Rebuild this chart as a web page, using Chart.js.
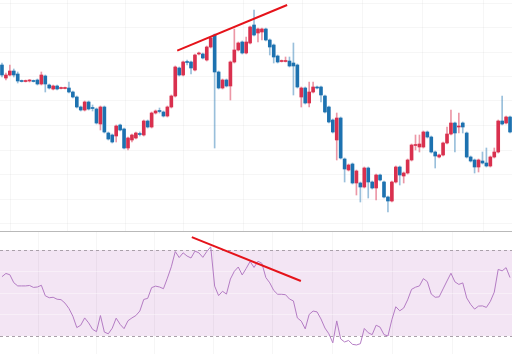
<!DOCTYPE html>
<html>
<head>
<meta charset="utf-8">
<script src="https://cdn.jsdelivr.net/npm/chart.js@4.4.1/dist/chart.umd.min.js"></script>
<style>
  html, body { margin: 0; padding: 0; background: #fff; }
  #wrap { position: relative; width: 512px; height: 354px; overflow: hidden; background: #fff; }
  #price { position: absolute; left: 0; top: 0; }
  #sep { position: absolute; left: 0; top: 231px; width: 512px; height: 1px; background: #b9b9b9; }
  #rsi { position: absolute; left: 0; top: 232px; }
</style>
</head>
<body>
<div id="wrap">
  <canvas id="price" width="512" height="231"></canvas>
  <div id="sep"></div>
  <canvas id="rsi" width="512" height="122"></canvas>
</div>
<script>
// candles (arbitrary price units)
const opens = [
  175,162,165,169,166,159.5,158.5,159,159.5,160,
  156,164,155,151,154,151.5,151.5,152,148,143,
  133,130,138,132.5,131,116,133,107,105,104,
  115,111,92,100,102,106.5,105,119,113,127,
  129.5,128,124,133,144,172,165,178.5,178,170,
  186,186,180,193,205,168,152,160,154,178,
  190,198,187,197,215,207,208,211,200,195,
  184,178.5,178.5,179,177,175,143,152,137,148,
  153,153,144,133,120,100,122,81,70,76,
  57,57,53,72,58,52,65,58,43,39,
  58,73,64,67,80,94.5,93,93,108,103,
  88,83,85,97,106,117,113,117,107,83,
  80,73,79,77,74,83,88,119,117,123
];
const closes = [
  165,165,169,165,159,158.5,159.5,160,158.5,156,
  165,156,152,154,151,152.5,152.5,148,143,133,
  130,138,131,131.5,117,133,108,101,98,114,
  110,92,102,105,107,105.5,119,113,127,129,
  128.5,124,133,144,173,165,178,177.5,172,185,
  187,182,193,202,168,152,160,154,178,190,
  197,187,198,213,205,211,211,200,193,183,
  178,179.5,179.5,174,174,153,152,137,148,153,
  152,145,128,118,108,122,82,71,75,57,
  69,53,72,58,52,65,60,43,39,58,
  73,65,67,80,95,95.5,96,108,103,88,
  84,85,97,106,117,107,114,113,83,79,
  73,80,77,74,83,88,119,116,123,108
];
const highs = [
  177,167,175,171,168,160,160,160.5,160,161,
  168,165,156,155,155,153,153,158,149,144,
  134,139,139,135,132,134,134,108,106,115,
  116,112,103,106,108,108,120,120,128,130,
  132,129,134,145,174,173,179,180,179,186,
  188,187,194,203,206,169,161,161,179,211,
  198,199,203,214,230,212,212,212,201,196,
  185,180,183,183,197,176,153,153,158,158,
  154,154,145,134,121,127,123,82,76,77,
  70,58,73,73,59,66,66,59,44,59,
  74,74,68,81,96,105,105,109,109,104,
  89,86,98,113,130,118,127,118,108,84,
  81,81,88,92,84,92,120,144,124,124
];
const lows = [
  163,160,164,163,157,158,158,158,158,155,
  155,148,151,150,150,151,151,147,142,132,
  129,129,130,129,116,110,107,100,97,98,
  109,91,90,98,101,104,104,112,112,126,
  127,123,123,132,143,164,164,175,166,169,
  185,181,179,192,92,151,151,153,140,177,
  189,186,186,196,204,198,200,199,185,177,
  177,178,178,173,145,152,133,136,133,147,
  151,138,127,117,107,80,81,58,69,56,
  45,38,52,42,51,40,59,42,28,38,
  57,55,57,66,79,90,88,92,102,87,
  72,82,84,96,105,88,107,107,82,78,
  67,68,76,73,73,82,87,115,116,107
];
// RSI, one value per candle
const rsi = [
  57.6,59.1,58.5,54.8,53.3,53.3,53.3,53.5,52.6,52.8,
  53.6,48.7,47.8,48,47.1,46.9,45.3,42.8,39.2,33.9,
  35,38.4,36.1,33.1,32,39.5,31.8,31,33.6,38.3,
  35.4,33.4,37.1,38.4,39.5,41.6,47,47.5,52.5,53.2,
  52.8,52,56.9,62.2,69.3,66.5,68.7,67.2,66.3,69.5,
  68.7,66.6,69.3,71.5,53.2,48.8,50.8,49.5,56.5,60.1,
  62.1,58.4,61.4,64.7,61.9,64.8,63.8,57.2,54.7,51.2,
  49.4,49.4,49.2,47.2,46.3,38.4,36.9,33.3,40,41.6,
  41.2,37.9,33.7,31,26.8,37,28.6,27.2,27.9,26.1,
  25.8,26.4,33.5,31.5,30.6,35,34.1,30.6,30,37.6,
  43.6,41.7,43,46.8,51.7,52.7,53.3,56.7,55.3,49.5,
  48,48.2,51.9,55.6,59.2,55.2,54,54.7,47.7,44.7,
  42.5,43.9,44,43.3,46.1,50.4,61,60.3,61.8,57.2
];

// drawn trend lines (candle index / value)
const priceTrendX = [44.5, 72.4];
const priceTrendY = [189.3, 235];
const rsiTrendX = [48.2, 75.9];
const rsiTrendY = [76, 55.6];

// grid lines
const timeGrid = [9.4, 23.9, 38.8, 53.6, 68.8, 84, 99.2, 114.5];
const priceGrid = [16.5, 41, 65.5, 90, 114.5, 139, 163.5, 188, 212.5, 237];
const rsiGrid = [30, 40, 50, 60, 70];
const RSI_UPPER = 70, RSI_LOWER = 30;

const RED = '#d9304e';
const BLUE = '#1d72b0';
const RED_WICK = 'rgba(217,48,78,0.5)';
const BLUE_WICK = 'rgba(29,114,176,0.45)';
const TREND = '#e5131a';
const GRID = 'rgba(0,0,0,0.035)';

const idx = opens.map((_, i) => i);
const isUp = idx.map(i => closes[i] >= opens[i]);

function timeAxis() {
    return {
        type: 'linear',
        min: -0.5,
        max: opens.length - 0.5,
        offset: false,
        afterBuildTicks: s => { s.ticks = timeGrid.map(v => ({ value: v })); },
        ticks: { display: false },
        grid: { color: GRID, drawTicks: false },
        border: { display: false }
    };
}

const common = {
    responsive: false,
    animation: false,
    events: [],
    layout: { padding: 0, autoPadding: false },
    plugins: { legend: { display: false }, tooltip: { enabled: false } }
};

new Chart(document.getElementById('price').getContext('2d'), {
    type: 'bar',
    data: {
        datasets: [
            {
                type: 'line',
                data: priceTrendX.map((x, i) => ({ x: x, y: priceTrendY[i] })),
                borderColor: TREND,
                borderWidth: 2,
                pointRadius: 0,
                order: 0
            },
            {
                data: idx.map(i => ({ x: i, y: [opens[i], closes[i]] })),
                backgroundColor: idx.map(i => isUp[i] ? RED : BLUE),
                barThickness: 3,
                minBarLength: 1,
                grouped: false,
                order: 1
            },
            {
                data: idx.map(i => ({ x: i, y: [lows[i], highs[i]] })),
                backgroundColor: idx.map(i => isUp[i] ? RED_WICK : BLUE_WICK),
                barThickness: 1,
                grouped: false,
                order: 2
            }
        ]
    },
    options: {
        ...common,
        scales: {
            x: timeAxis(),
            y: {
                min: 9,
                max: 240,
                afterBuildTicks: s => { s.ticks = priceGrid.map(v => ({ value: v })); },
                ticks: { display: false },
                grid: { color: GRID, drawTicks: false },
                border: { display: false }
            }
        }
    }
});

const rsiBand = {
    id: 'rsiBand',
    beforeDraw(chart) {
        const { ctx, chartArea: a, scales: { y } } = chart;
        const top = y.getPixelForValue(RSI_UPPER);
        const bot = y.getPixelForValue(RSI_LOWER);
        ctx.save();
        ctx.fillStyle = '#f3e5f4';
        ctx.fillRect(a.left, top, a.right - a.left, bot - top);
        ctx.restore();
    },
    beforeDatasetsDraw(chart) {
        const { ctx, chartArea: a, scales: { y } } = chart;
        ctx.save();
        ctx.strokeStyle = '#aaa0aa';
        ctx.lineWidth = 1;
        ctx.setLineDash([3, 3]);
        [RSI_UPPER, RSI_LOWER].forEach(v => {
            const py = Math.round(y.getPixelForValue(v)) + 0.5;
            ctx.beginPath();
            ctx.moveTo(a.left, py);
            ctx.lineTo(a.right, py);
            ctx.stroke();
        });
        ctx.restore();
    }
};

new Chart(document.getElementById('rsi').getContext('2d'), {
    type: 'line',
    data: {
        datasets: [
            {
                data: rsiTrendX.map((x, i) => ({ x: x, y: rsiTrendY[i] })),
                borderColor: TREND,
                borderWidth: 2,
                pointRadius: 0,
                order: 0
            },
            {
                data: idx.map(i => ({ x: i, y: rsi[i] })),
                borderColor: '#b47cc4',
                borderWidth: 1,
                pointRadius: 0,
                tension: 0,
                order: 1
            }
        ]
    },
    options: {
        ...common,
        scales: {
            x: timeAxis(),
            y: {
                min: 21.6,
                max: 78.4,
                afterBuildTicks: s => { s.ticks = rsiGrid.map(v => ({ value: v })); },
                ticks: { display: false },
                grid: {
                    color: ctx => (ctx.tick && (ctx.tick.value === RSI_UPPER || ctx.tick.value === RSI_LOWER)) ? 'rgba(0,0,0,0)' : 'rgba(255,255,255,0.4)',
                    drawTicks: false
                },
                border: { display: false }
            }
        }
    },
    plugins: [rsiBand]
});
</script>
</body>
</html>
